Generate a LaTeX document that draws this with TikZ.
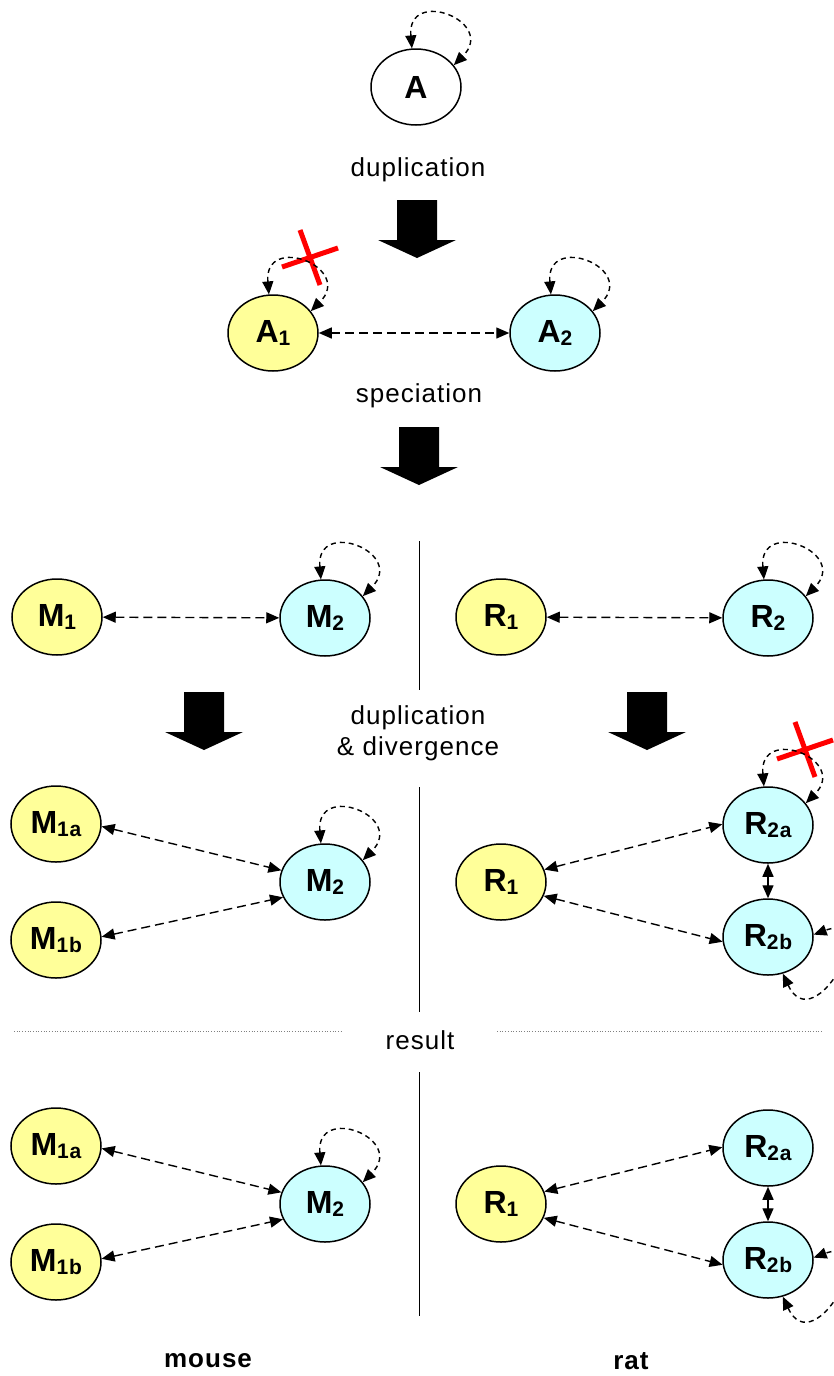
\documentclass[tikz,border=0pt]{standalone}
\usepackage{fontspec}
\setmainfont{Liberation Sans}[LetterSpace=4]
\usetikzlibrary{arrows.meta, shapes.geometric}

\definecolor{paleyellow}{HTML}{FFFF99}
\definecolor{palecyan}{HTML}{CCFFFF}

\newcommand{\sub}[1]{\raisebox{-3pt}{\fontsize{21}{21}\selectfont #1}}

\tikzset{
    gene/.style = {ellipse, draw, line width=1.5pt, minimum width=90pt,
        minimum height=76pt, inner sep=0pt,
        font=\fontsize{32}{32}\selectfont\bfseries},
    para1/.style = {gene, fill=paleyellow},
    para2/.style = {gene, fill=palecyan},
    link/.style = {<->, line width=1.4pt, dash pattern=on 9pt off 5pt},
    selfloop/.style = {dash pattern=on 5pt off 4pt, out=95, in=45, distance=62pt},
    sideloop/.style = {dash pattern=on 5pt off 4pt, out=-65, in=20, distance=75pt},
    caption/.style = {font=\fontsize{26}{31}\selectfont, align=center},
    species/.style = {font=\fontsize{26}{26}\selectfont\bfseries},
    knockout/.pic = {
        \draw [red, line width=5pt] (9,66) -- (65,85);
        \draw [red, line width=5pt] (27,103) -- (47,48);
    },
    bigarrow/.pic = {
        \fill (-20,0) -- (20,0) -- (20,-40) -- (39,-40) -- (0,-58)
            -- (-39,-40) -- (-20,-40) -- cycle;
    }
}

\begin{document}
\begin{tikzpicture} [x=1pt, y=1pt,
    >={Triangle[length=13pt, width=11pt]}]
    \useasboundingbox (0,0) rectangle (834,-1376);

    % ancestor and first duplication
    \node (a) [gene] at (416,-87) {A};
    \node (dup) [caption] at (418,-170) {duplication};
    \pic at (417,-200) {bigarrow};

    \node (a1) [para1] at (273,-333) {A\sub{1}};
    \node (a2) [para2] at (555,-333) {A\sub{2}};
    \pic at (a1.center) {knockout};

    \node (spec) [caption] at (419,-396) {speciation};
    \pic at (419,-427) {bigarrow};

    % after speciation
    \node (m1) [para1] at (57,-617) {M\sub{1}};
    \node (m2) [para2] at (325,-618) {M\sub{2}};
    \node (r1) [para1] at (501,-617) {R\sub{1}};
    \node (r2) [para2] at (768,-618) {R\sub{2}};

    \node (div) [caption] at (418,-733) {duplication\\\& divergence};
    \pic at (204,-692) {bigarrow};
    \pic at (647,-692) {bigarrow};

    % duplication & divergence
    \node (m1ad) [para1] at (56,-824) {M\sub{1a}};
    \node (m1bd) [para1] at (56,-940) {M\sub{1b}};
    \node (m2d) [para2] at (325,-882) {M\sub{2}};
    \node (r1d) [para1] at (501,-882) {R\sub{1}};
    \node (r2ad) [para2] at (768,-825) {R\sub{2a}};
    \node (r2bd) [para2] at (768,-937) {R\sub{2b}};
    \pic at (r2ad.center) {knockout};

    \node (res) [caption] at (420,-1040) {result};

    % result
    \node (m1ar) [para1] at (56,-1146) {M\sub{1a}};
    \node (m1br) [para1] at (56,-1262) {M\sub{1b}};
    \node (m2r) [para2] at (325,-1204) {M\sub{2}};
    \node (r1r) [para1] at (501,-1204) {R\sub{1}};
    \node (r2ar) [para2] at (768,-1148) {R\sub{2a}};
    \node (r2br) [para2] at (768,-1260) {R\sub{2b}};

    \node (mouse) [species] at (208,-1361) {mouse};
    \node (rat) [species] at (631,-1361) {rat};

    \draw [line width=0.8pt] (419,-541) -- (419,-690);
    \draw [line width=0.8pt] (419,-787) -- (419,-1012);
    \draw [line width=0.8pt] (419,-1072) -- (419,-1316);
    \draw [dotted, line width=0.7pt, gray] (14,-1031) -- (342,-1031);
    \draw [dotted, line width=0.7pt, gray] (497,-1031) -- (822,-1031);

    \path [link]
        (a.96) edge [selfloop] (a.30)

        (a1) edge (a2)
        (a1.96) edge [selfloop] (a1.30)
        (a2.96) edge [selfloop] (a2.30)

        (m1) edge (m2)
        (m2.96) edge [selfloop] (m2.30)
        (r1) edge (r2)
        (r2.96) edge [selfloop] (r2.30)

        (m1ad.-3) edge (m2d.165)
        (m1bd.4) edge (m2d.200)
        (m2d.96) edge [selfloop] (m2d.30)
        (r1d.16) edge (r2ad.179)
        (r1d.-18) edge (r2bd.186)
        (r2ad) edge [solid] (r2bd)
        (r2ad.96) edge [selfloop] (r2ad.30)
        (r2bd.-68) edge [sideloop] (r2bd.3)

        (m1ar.-3) edge (m2r.165)
        (m1br.4) edge (m2r.200)
        (m2r.96) edge [selfloop] (m2r.30)
        (r1r.16) edge (r2ar.179)
        (r1r.-18) edge (r2br.186)
        (r2ar) edge [solid] (r2br)
        (r2br.-68) edge [sideloop] (r2br.3);
\end{tikzpicture}
\end{document}
